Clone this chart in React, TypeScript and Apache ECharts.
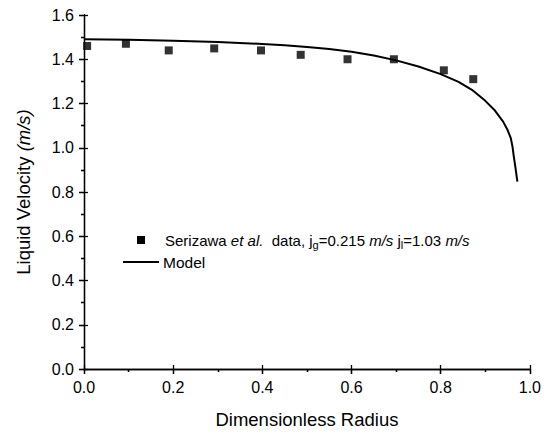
import React, { useEffect, useRef } from "react";
import * as echarts from "echarts";

const dataX = [0.007, 0.094, 0.19, 0.292, 0.397, 0.486, 0.591, 0.695, 0.807, 0.873];
const dataY = [1.46, 1.47, 1.44, 1.449, 1.44, 1.42, 1.40, 1.40, 1.35, 1.31];

const modelX = [0, 0.1, 0.2, 0.3, 0.4, 0.45, 0.5, 0.55, 0.6, 0.65, 0.7, 0.75, 0.8, 0.84, 0.87, 0.9, 0.92, 0.94, 0.95, 0.957, 0.961, 0.964, 0.968, 0.972];
const modelY = [1.49, 1.488, 1.484, 1.478, 1.469, 1.463, 1.455, 1.446, 1.434, 1.417, 1.395, 1.367, 1.333, 1.298, 1.262, 1.212, 1.172, 1.118, 1.08, 1.045, 1.005, 0.96, 0.905, 0.847];

const xTicks = { min: 0, max: 1.0, interval: 0.2 };
const yTicks = { min: 0, max: 1.6, interval: 0.2 };

const FONT = "Liberation Sans, Arial, sans-serif";

export default function App() {
  const ref = useRef<HTMLDivElement>(null);
  useEffect(() => {
    if (!ref.current) return;
    const chart = echarts.init(ref.current, undefined, { renderer: "svg" });
    const black = "#000";
    const baseAxis = {
      type: "value" as const,
      splitLine: { show: false },
    };
    chart.setOption({
      animation: false,
      backgroundColor: "#fff",
      grid: { left: 84, right: 12, top: 15, bottom: 59, containLabel: false },
      xAxis: [
        {
          ...baseAxis,
          min: xTicks.min, max: xTicks.max, interval: xTicks.interval,
          position: "bottom",
          axisLine: { lineStyle: { color: black, width: 1.3 } },
          axisTick: { length: 5, lineStyle: { color: black, width: 1.3 } },
          minorTick: { show: true, splitNumber: 2, length: 3, lineStyle: { color: black, width: 1.3 } },
          axisLabel: {
            color: black, fontFamily: FONT, fontSize: 16, margin: 10,
            formatter: (v: number) => v.toFixed(1),
          },
          name: "Dimensionless Radius",
          nameLocation: "middle",
          nameGap: 41,
          nameTextStyle: { color: black, fontFamily: FONT, fontSize: 18.5 },
        },
        {
          ...baseAxis,
          min: xTicks.min, max: xTicks.max, interval: xTicks.interval,
          position: "bottom",
          axisLine: { show: false },
          axisTick: { inside: true, length: 4, lineStyle: { color: black, width: 1.3 } },
          axisLabel: { show: false },
        },
        {
          ...baseAxis,
          min: xTicks.min, max: xTicks.max, interval: xTicks.interval,
          position: "top",
          axisLine: { lineStyle: { color: black, width: 1.3 } },
          axisTick: { inside: true, length: 5, lineStyle: { color: black, width: 1.3 } },
          minorTick: { show: true, splitNumber: 2, length: 3, lineStyle: { color: black, width: 1.3 } },
          axisLabel: { show: false },
        },
      ],
      yAxis: [
        {
          ...baseAxis,
          min: yTicks.min, max: yTicks.max, interval: yTicks.interval,
          position: "left",
          axisLine: { lineStyle: { color: black, width: 1.3 } },
          axisTick: { length: 5, lineStyle: { color: black, width: 1.3 } },
          minorTick: { show: true, splitNumber: 2, length: 3, lineStyle: { color: black, width: 1.3 } },
          axisLabel: {
            color: black, fontFamily: FONT, fontSize: 16, margin: 10,
            formatter: (v: number) => v.toFixed(1),
          },
          name: "Liquid Velocity {i|(m/s)}",
          nameLocation: "middle",
          nameGap: 51,
          nameTextStyle: {
            color: black, fontFamily: FONT, fontSize: 18.5,
            rich: { i: { fontStyle: "italic", fontFamily: FONT, fontSize: 18.5, color: black } },
          },
        },
        {
          ...baseAxis,
          min: yTicks.min, max: yTicks.max, interval: yTicks.interval,
          position: "left",
          axisLine: { show: false },
          axisTick: { inside: true, length: 4, lineStyle: { color: black, width: 1.3 } },
          axisLabel: { show: false },
        },
        {
          ...baseAxis,
          min: yTicks.min, max: yTicks.max, interval: yTicks.interval,
          position: "right",
          axisLine: { lineStyle: { color: black, width: 1.3 } },
          axisTick: { inside: true, length: 5, lineStyle: { color: black, width: 1.3 } },
          minorTick: { show: true, splitNumber: 2, length: 3, lineStyle: { color: black, width: 1.3 } },
          axisLabel: { show: false },
        },
      ],
      series: [
        {
          type: "line",
          name: "Model",
          xAxisIndex: 0,
          yAxisIndex: 0,
          data: modelX.map((x, i) => [x, modelY[i]]),
          showSymbol: false,
          symbol: "none",
          lineStyle: { color: black, width: 2 },
        },
        {
          type: "scatter",
          name: "Serizawa",
          xAxisIndex: 0,
          yAxisIndex: 0,
          data: dataX.map((x, i) => [x, dataY[i]]),
          symbol: "rect",
          symbolSize: 8,
          itemStyle: { color: black },
        },
      ],
      graphic: [
        { type: "rect", shape: { x: 137, y: 236, width: 8, height: 8 }, style: { fill: black } },
        {
          type: "text",
          x: 165,
          y: 240,
          style: {
            text: "Serizawa {i|et al.}  data, j{sub|g}=0.215 {i|m/s} j{sub|l}=1.03 {i|m/s}",
            fontFamily: FONT,
            fontSize: 15,
            fill: black,
            verticalAlign: "middle",
            lineHeight: 20,
            rich: {
              i: { fontStyle: "italic", fontFamily: FONT, fontSize: 15, fill: black, lineHeight: 20 },
              sub: { fontFamily: FONT, fontSize: 11, fill: black, verticalAlign: "bottom", lineHeight: 11 },
            },
          },
        },
        { type: "line", shape: { x1: 123, y1: 262, x2: 159, y2: 262 }, style: { stroke: black, lineWidth: 2 } },
        {
          type: "text",
          x: 163,
          y: 262,
          style: { text: "Model", fontFamily: FONT, fontSize: 15.5, fill: black, verticalAlign: "middle" },
        },
      ],
    });
    return () => chart.dispose();
  }, []);
  return <div ref={ref} style={{ width: 544, height: 434, position: "absolute", left: 0, top: 0 }} />;
}
